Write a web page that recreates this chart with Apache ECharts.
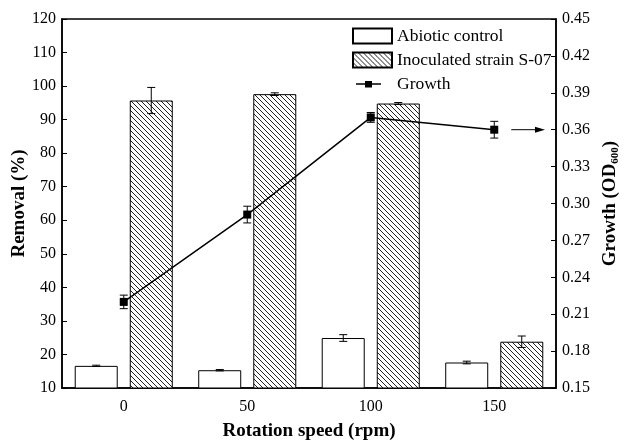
<!DOCTYPE html>
<html>
<head>
<meta charset="utf-8">
<script src="https://cdn.jsdelivr.net/npm/echarts@6/dist/echarts.min.js"></script>
<style>
  html, body { margin: 0; padding: 0; background: #fff; }
  #chart { width: 625px; height: 440px; }
</style>
</head>
<body>
<div id="chart"></div>
<script>
const categories = ['0', '50', '100', '150']
const abiotic = [16.6, 15.3, 24.9, 17.6]
const abioticErr = [0.2, 0.2, 1.0, 0.4]
const inoculated = [95.7, 97.6, 94.8, 23.8]
const inoculatedErr = [3.9, 0.4, 0.3, 1.7]
const growth = [0.220, 0.291, 0.370, 0.360]
const growthErr = [0.0055, 0.0068, 0.004, 0.0068]

const FONT = 'Liberation Serif'
const BAR_W = 43
const BAR_OFFSET = 27.5

// hatch pattern (\\\\)
const makeHatch = () => {
  const c = document.createElement('canvas')
  c.width = 5
  c.height = 5
  const ctx = c.getContext('2d')
  ctx.fillStyle = '#fff'
  ctx.fillRect(0, 0, 5, 5)
  ctx.strokeStyle = '#222'
  ctx.lineWidth = 1
  ctx.beginPath()
  ctx.moveTo(-1, -1); ctx.lineTo(6, 6)
  ctx.moveTo(-1, 4); ctx.lineTo(1, 6)
  ctx.moveTo(4, -1); ctx.lineTo(6, 1)
  ctx.stroke()
  return c
}
const hatch = { image: makeHatch(), repeat: 'repeat' }

// legend icon for the growth line: short line with a square marker
const growthIcon = 'path://M0,0L0.01,0L0.01,0.01Z M39,15L38.99,15L38.99,14.99Z ' +
  'M3,6.8L12,6.8L12,8.2L3,8.2Z M12,4.5L19,4.5L19,11L12,11Z M19,6.8L28,6.8L28,8.2L19,8.2Z'

// error bars drawn through the axes
const errorBar = (offset) => (params, api) => {
  const x = api.value(0)
  const v = api.value(1)
  const e = api.value(2)
  const hi = api.coord([x, v + e])
  const lo = api.coord([x, v - e])
  const cx = hi[0] + offset
  const cap = 4
  const style = { stroke: '#000', lineWidth: 1 }
  return {
    type: 'group',
    children: [
      { type: 'line', shape: { x1: cx, y1: hi[1], x2: cx, y2: lo[1] }, style },
      { type: 'line', shape: { x1: cx - cap, y1: hi[1], x2: cx + cap, y2: hi[1] }, style },
      { type: 'line', shape: { x1: cx - cap, y1: lo[1], x2: cx + cap, y2: lo[1] }, style }
    ]
  }
}

const chart = echarts.init(document.getElementById('chart'))

const option = {
  backgroundColor: '#fff',
  animation: false,
  textStyle: { fontFamily: FONT, color: '#000' },
  grid: {
    left: 62, right: 69, top: 19, bottom: 52,
    outerBoundsMode: 'none',
    containLabel: false,
    show: true, borderColor: '#000', borderWidth: 1.5, backgroundColor: 'transparent'
  },
  legend: {
    orient: 'vertical',
    left: 347,
    top: 22,
    itemWidth: 39,
    itemHeight: 15,
    itemGap: 6,
    textStyle: { fontFamily: FONT, fontSize: 17.5, color: '#000' },
    data: [
      { name: 'Abiotic control', icon: 'rect' },
      { name: 'Inoculated strain S-07', icon: 'rect' },
      { name: 'Growth', icon: growthIcon, itemStyle: { color: '#000', borderWidth: 0 } }
    ]
  },
  xAxis: {
    type: 'category',
    data: categories,
    name: 'Rotation speed (rpm)',
    nameLocation: 'middle',
    nameGap: 34,
    nameTextStyle: { fontFamily: FONT, fontSize: 19, fontWeight: 'bold', color: '#000' },
    axisLine: { lineStyle: { color: '#000', width: 1.5 } },
    axisTick: { show: false },
    axisLabel: { fontFamily: FONT, fontSize: 16, color: '#000', margin: 11 }
  },
  yAxis: [
    {
      type: 'value',
      min: 10, max: 120, interval: 10,
      name: 'Removal (%)',
      nameLocation: 'middle',
      nameGap: 33,
      nameMoveOverlap: false,
      nameTextStyle: { fontFamily: FONT, fontSize: 19, fontWeight: 'bold', color: '#000' },
      axisLine: { show: true, lineStyle: { color: '#000', width: 1.5 } },
      axisTick: { show: true, inside: true, length: 5, lineStyle: { color: '#000' } },
      axisLabel: { fontFamily: FONT, fontSize: 16, color: '#000', margin: 6 },
      splitLine: { show: false }
    },
    {
      type: 'value',
      min: 0.15, max: 0.45, interval: 0.03,
      name: 'Growth (OD{sub|600})',
      nameLocation: 'middle',
      nameRotate: 90,
      nameGap: 44,
      nameTextStyle: {
        fontFamily: FONT, fontSize: 19, fontWeight: 'bold', color: '#000',
        rich: { sub: { fontFamily: FONT, fontSize: 11, fontWeight: 'bold', color: '#000', padding: [10, 0, 0, 0] } }
      },
      axisLine: { show: true, lineStyle: { color: '#000', width: 1.5 } },
      axisTick: { show: true, inside: true, length: 5, lineStyle: { color: '#000' } },
      axisLabel: {
        fontFamily: FONT, fontSize: 16, color: '#000', margin: 6,
        formatter: v => v.toFixed(2)
      },
      splitLine: { show: false }
    }
  ],
  series: [
    {
      name: 'Abiotic control',
      type: 'bar',
      data: abiotic,
      barWidth: BAR_W,
      barGap: '28%',
      itemStyle: { color: '#fff', borderColor: '#000', borderWidth: 1 }
    },
    {
      name: 'Inoculated strain S-07',
      type: 'bar',
      data: inoculated,
      barWidth: BAR_W,
      barGap: '28%',
      itemStyle: { color: hatch, borderColor: '#000', borderWidth: 1 }
    },
    {
      name: 'Growth',
      type: 'line',
      yAxisIndex: 1,
      data: growth,
      symbol: 'rect',
      symbolSize: 8,
      lineStyle: { color: '#000', width: 1.5 },
      itemStyle: { color: '#000' },
      z: 5
    },
    {
      type: 'custom',
      renderItem: errorBar(-BAR_OFFSET),
      data: abiotic.map((v, i) => [i, v, abioticErr[i]]),
      z: 6,
      silent: true
    },
    {
      type: 'custom',
      renderItem: errorBar(BAR_OFFSET),
      data: inoculated.map((v, i) => [i, v, inoculatedErr[i]]),
      z: 6,
      silent: true
    },
    {
      type: 'custom',
      yAxisIndex: 1,
      renderItem: errorBar(0),
      data: growth.map((v, i) => [i, v, growthErr[i]]),
      z: 6,
      silent: true
    }
  ]
}

chart.setOption(option)

// arrow pointing from the last growth point to the right axis
const p = chart.convertToPixel({ seriesIndex: 2 }, [3, growth[3]])
const axisRight = 625 - 69
const x1 = p[0] + 17
const x2 = axisRight - 11
chart.setOption({
  graphic: [
    { type: 'line', shape: { x1: x1, y1: p[1], x2: x2 - 8, y2: p[1] }, style: { stroke: '#000', lineWidth: 1 } },
    { type: 'polygon', shape: { points: [[x2, p[1]], [x2 - 10, p[1] - 3], [x2 - 10, p[1] + 3]] }, style: { fill: '#000' } }
  ]
})
</script>
</body>
</html>
